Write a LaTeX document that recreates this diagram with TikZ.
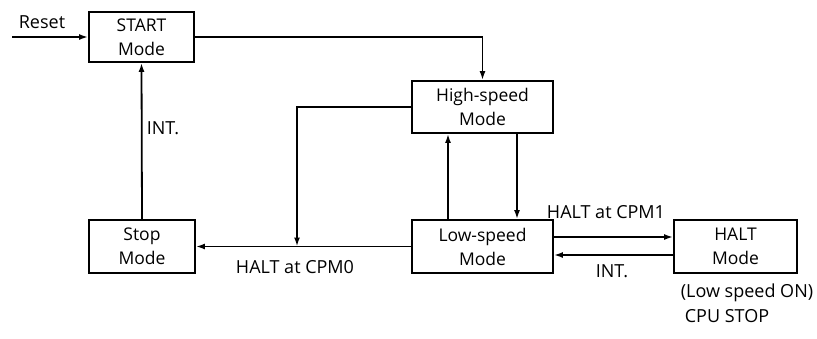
\documentclass[tikz,border=0pt]{standalone}
\usepackage{fontspec}
\setmainfont{Open Sans}
\usetikzlibrary{arrows.meta}

\tikzset{
    modebox/.style={draw, line width=1.8pt, align=center, inner sep=0pt,
        font=\fontsize{17.5}{24}\selectfont},
    flow/.style={line width=1.8pt, -{Latex[length=9pt,width=6pt]}},
    note/.style={font=\fontsize{18}{21}\selectfont, inner sep=0pt},
}

\begin{document}
\begin{tikzpicture}[x=1pt, y=-1pt]
    \useasboundingbox[fill=white] (0,0) rectangle (817,338);

    % mode boxes
    \node[modebox, minimum width=105pt, minimum height=50pt] (start) at (141.5,37) {START\\Mode};
    \node[modebox, minimum width=141pt, minimum height=52pt] (high) at (482.5,107) {High-speed\\Mode};
    \node[modebox, minimum width=141pt, minimum height=53pt] (low) at (482.5,246.5) {Low-speed\\Mode};
    \node[modebox, minimum width=106pt, minimum height=53pt] (stop) at (142,246.5) {Stop\\Mode};
    \node[modebox, minimum width=123pt, minimum height=53pt] (halt) at (735.5,246.5) {HALT\\Mode};

    \coordinate (reset) at (12,37);
    \coordinate (join) at (297,246.5);

    % transitions
    \draw[flow] (reset) -- (start.west);
    \draw[flow] (start.east) -| (high.north);
    \draw[flow] (high.west) -| (join);
    \draw[flow] (low.west) -- (stop.east);
    \draw[flow] (stop.north) -- (start.south);
    \draw[flow] ([xshift=-34.5pt]low.north) -- ([xshift=-34.5pt]high.south);
    \draw[flow] ([xshift=34.5pt]high.south) -- ([xshift=34.5pt]low.north);
    \draw[flow] ([yshift=9.5pt]low.east) -- ([yshift=9.5pt]halt.west);
    \draw[flow] ([yshift=-8.5pt]halt.west) -- ([yshift=-8.5pt]low.east);

    % labels
    \node[note] (lreset) at (42,22) {Reset};
    \node[note] (lint) at (163,128) {INT.};
    \node[note] (lcpm0) at (295,267) {HALT at CPM0};
    \node[note] (lcpm1) at (606,212) {HALT at CPM1};
    \node[note] (lint2) at (612,271) {INT.};
    \node[note] (lon) at (747,293) {(Low speed ON)};
    \node[note] (lcpu) at (727,316) {CPU STOP};
\end{tikzpicture}
\end{document}
